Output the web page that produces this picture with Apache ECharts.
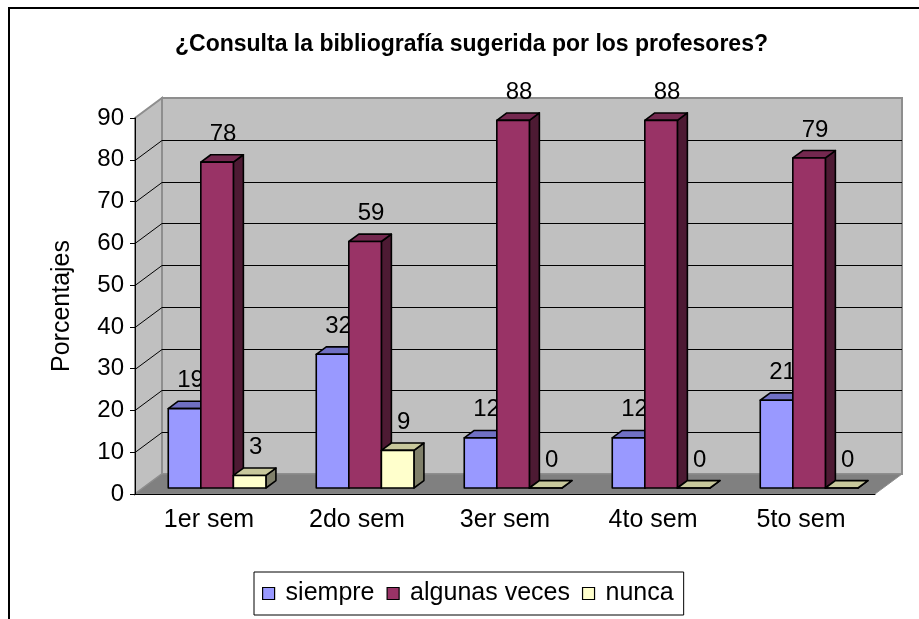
<!DOCTYPE html>
<html>
<head>
<meta charset="utf-8">
<script src="https://cdn.jsdelivr.net/npm/echarts@6/dist/echarts.min.js"></script>
<style>
  html, body { margin: 0; padding: 0; background: #fff; }
  #chart { width: 919px; height: 619px; }
</style>
</head>
<body>
<div id="chart"></div>
<script>
// datos
const categories = ['1er sem', '2do sem', '3er sem', '4to sem', '5to sem'];
const siempre = [19, 32, 12, 12, 21];
const algunasVeces = [78, 59, 88, 88, 79];
const nunca = [3, 9, 0, 0, 0];
const yTicks = [0, 10, 20, 30, 40, 50, 60, 70, 80, 90];
const seriesNames = ['siempre', 'algunas veces', 'nunca'];

const FONT = '"Liberation Sans", Arial, sans-serif';
const DEPTH = [27, -20];          // desplazamiento de la pared de fondo
const BAR_FRAC = 0.22;            // ancho de barra / ancho de categoria
const frontCol = ['#9999FF', '#993366', '#FFFFCC'];
const topCol = ['#7070C4', '#74284F', '#C8C89C'];
const sideCol = ['#4D4D80', '#4D1A33', '#80806A'];

const chart = echarts.init(document.getElementById('chart'));

// paredes, suelo y lineas de division
function renderWalls(params, api) {
  const catW = api.size([1, 0])[0];
  const xL = api.coord([0, 0])[0] - catW / 2;
  const xR = api.coord([categories.length - 1, 0])[0] + catW / 2;
  const y0 = api.coord([0, yTicks[0]])[1];
  const yT = api.coord([0, yTicks[yTicks.length - 1]])[1];
  const dx = DEPTH[0], dy = DEPTH[1];
  const kids = [];
  kids.push({
    type: 'rect',
    shape: { x: xL + dx, y: yT + dy, width: xR - xL, height: y0 - yT },
    style: { fill: '#C0C0C0', stroke: '#8E8E8E', lineWidth: 2 }
  });
  kids.push({
    type: 'polygon',
    shape: { points: [[xL, y0], [xL, yT], [xL + dx, yT + dy], [xL + dx, y0 + dy]] },
    style: { fill: '#C0C0C0', stroke: '#8E8E8E', lineWidth: 2 }
  });
  for (let k = 1; k < yTicks.length - 1; k++) {
    const y = Math.round(api.coord([0, yTicks[k]])[1]) + 0.5;
    kids.push({
      type: 'line',
      shape: { x1: xL + dx, y1: y + dy, x2: xR + dx, y2: y + dy },
      style: { stroke: '#000', lineWidth: 1 }
    });
    kids.push({
      type: 'line',
      shape: { x1: xL, y1: y, x2: xL + dx, y2: y + dy },
      style: { stroke: '#000', lineWidth: 1 }
    });
  }
  kids.push({
    type: 'polygon',
    shape: { points: [[xL, y0], [xR, y0], [xR + dx, y0 + dy], [xL + dx, y0 + dy]] },
    style: { fill: '#808080', stroke: '#8E8E8E', lineWidth: 1 }
  });
  return { type: 'group', children: kids };
}

function makeBarRender(i) {
  return function (params, api) {
    const cat = api.value(0), val = api.value(1);
    const catW = api.size([1, 0])[0];
    const base = api.coord([cat, 0]);
    const top = api.coord([cat, val]);
    const bw = catW * BAR_FRAC;
    const fx = DEPTH[0] * 0.3, fy = DEPTH[1] * 0.3;
    const bx = DEPTH[0] * 0.37, by = DEPTH[1] * 0.37;
    const x0 = base[0] - 1.5 * bw + i * bw + fx;
    const x1 = x0 + bw;
    const yb = base[1] + fy;
    const yt = top[1] + fy;
    const line = { stroke: '#000', lineWidth: 1.6, lineJoin: 'round' };
    return {
      type: 'group',
      children: [
        { type: 'polygon', shape: { points: [[x1, yt], [x1 + bx, yt + by], [x1 + bx, yb + by], [x1, yb]] },
          style: Object.assign({ fill: sideCol[i] }, line) },
        { type: 'polygon', shape: { points: [[x0, yt], [x1, yt], [x1 + bx, yt + by], [x0 + bx, yt + by]] },
          style: Object.assign({ fill: topCol[i] }, line) },
        { type: 'rect', shape: { x: x0, y: yt, width: bw, height: yb - yt },
          style: Object.assign({ fill: frontCol[i] }, line) },
        { type: 'text', x: (x0 + x1) / 2 + 6, y: yt - 28,
          style: { text: String(val), fill: '#000', font: '24px ' + FONT, align: 'center', verticalAlign: 'middle' } }
      ]
    };
  };
}

const barData = [siempre, algunasVeces, nunca];
const barSeries = barData.map(function (arr, i) {
  return {
    name: seriesNames[i],
    type: 'custom',
    renderItem: makeBarRender(i),
    itemStyle: { color: frontCol[i] },
    data: arr.map(function (v, k) { return [k, v]; }),
    z: 3
  };
});

const option = {
  animation: false,
  title: {
    text: '¿Consulta la bibliografía sugerida por los profesores?',
    left: 170,
    top: 28,
    textStyle: { fontFamily: FONT, fontSize: 23, fontWeight: 'bold', color: '#000' }
  },
  legend: {
    data: seriesNames,
    left: 254,
    top: 572,
    padding: [9, 10, 9, 8],
    itemGap: 12,
    itemWidth: 12,
    itemHeight: 12,
    icon: 'rect',
    borderColor: '#000',
    borderWidth: 1,
    itemStyle: { borderColor: '#000', borderWidth: 1.2 },
    textStyle: { fontFamily: FONT, fontSize: 25, color: '#000', padding: [0, 0, 0, 6] }
  },
  grid: { left: 135, right: 44, top: 118, bottom: 125 },
  xAxis: {
    type: 'category',
    data: categories,
    z: 5,
    axisLine: { lineStyle: { color: '#000', width: 1 } },
    axisTick: { length: 6, lineStyle: { color: '#000' } },
    axisLabel: { fontFamily: FONT, fontSize: 25, color: '#000', margin: 14 }
  },
  yAxis: {
    type: 'value',
    min: 0,
    max: 90,
    interval: 10,
    z: 5,
    name: 'Porcentajes',
    nameLocation: 'middle',
    nameGap: 60,
    nameTextStyle: { fontFamily: FONT, fontSize: 25, color: '#000' },
    axisLine: { show: true, lineStyle: { color: '#000', width: 1 } },
    axisTick: { show: true, length: 5, lineStyle: { color: '#000' } },
    splitLine: { show: false },
    axisLabel: { fontFamily: FONT, fontSize: 24, color: '#000', margin: 11 }
  },
  graphic: [{
    type: 'rect',
    shape: { x: 9, y: 8, width: 1000, height: 700 },
    style: { fill: 'none', stroke: '#000', lineWidth: 2 },
    silent: true
  }],
  series: [{
    name: 'walls',
    type: 'custom',
    renderItem: renderWalls,
    data: [[0, 0]],
    silent: true,
    z: 1
  }].concat(barSeries)
};

chart.setOption(option);
</script>
</body>
</html>
